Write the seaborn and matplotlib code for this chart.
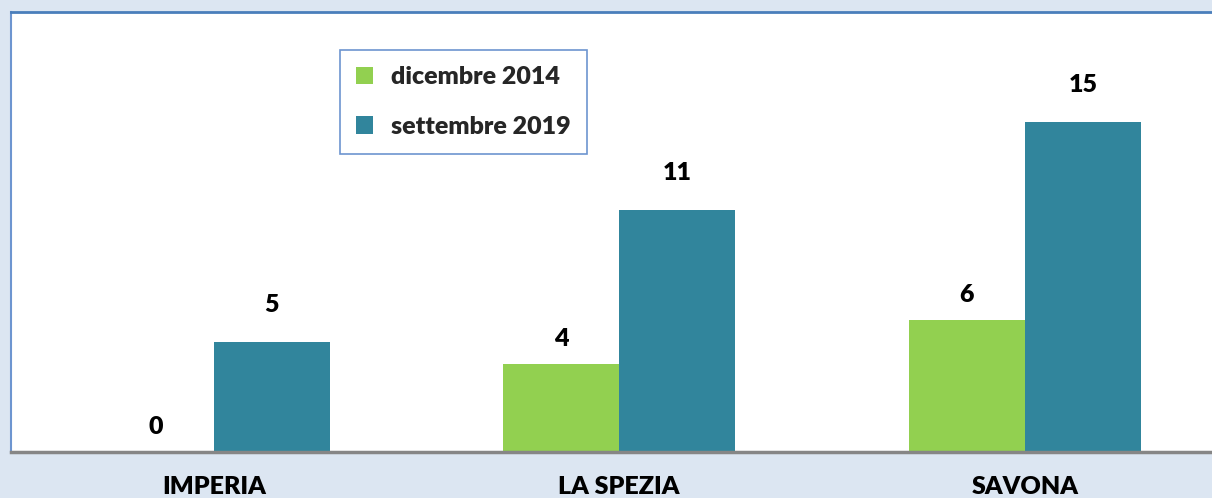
import pandas as pd
import matplotlib
matplotlib.use("Agg")
import matplotlib.pyplot as plt
import seaborn as sns

# Data
provinces = ["IMPERIA", "LA SPEZIA", "SAVONA"]
series_names = ["dicembre 2014", "settembre 2019"]
dic_2014 = [0, 4, 6]
set_2019 = [5, 11, 15]
colors = ["#92d050", "#31859c"]

df = pd.DataFrame({
    "provincia": provinces * 2,
    "periodo": [series_names[0]] * 3 + [series_names[1]] * 3,
    "valore": dic_2014 + set_2019,
})

sns.set_theme(style="white")
plt.rcParams["font.family"] = ["Lato", "DejaVu Sans"]

W, H = 1212, 498
fig = plt.figure(figsize=(W / 100, H / 100), dpi=100)
fig.patch.set_facecolor("#dce6f2")

ax = fig.add_axes([11 / W, (H - 452) / H, (W - 11) / W, 440 / H])
ax.set_facecolor("white")

sns.barplot(data=df, x="provincia", y="valore", hue="periodo",
            palette=colors, width=0.573, gap=0, ax=ax, saturation=1,
            linewidth=0, legend=True)

ax.set_xlim(-0.5, -0.5 + (W - 11) / 405.5)
ax.set_ylim(0, 20)
ax.set_yticks([])
ax.set_xlabel("")
ax.set_ylabel("")
ax.tick_params(axis="x", length=0, pad=17, labelsize=18)
for lbl in ax.get_xticklabels():
    lbl.set_fontweight("heavy")
    lbl.set_color("black")

# spines
ax.spines["right"].set_visible(False)
ax.spines["top"].set_color("#4a7ebb")
ax.spines["top"].set_linewidth(2)
ax.spines["left"].set_color("#6d95d0")
ax.spines["left"].set_linewidth(1.5)
ax.spines["bottom"].set_color("#868686")
ax.spines["bottom"].set_linewidth(2.5)

# value labels
pads = [10, 19]
for cont, pad in zip(ax.containers, pads):
    ax.bar_label(cont, padding=pad, fontsize=18, fontweight="heavy", color="black")

# legend
handles, labels = ax.get_legend_handles_labels()
leg = ax.legend(handles, labels, loc="upper left",
                bbox_to_anchor=(340 / W, 1 - 50 / H), bbox_transform=fig.transFigure,
                frameon=True, fancybox=False, framealpha=1,
                prop={"size": 18, "weight": "heavy"},
                handlelength=0.68, handleheight=0.68, handletextpad=0.7,
                labelspacing=1.1, borderpad=0.65, borderaxespad=0)
leg.get_frame().set_edgecolor("#6d95d0")
leg.get_frame().set_linewidth(1.2)

fig.savefig("out.png", dpi=100, facecolor=fig.get_facecolor())
